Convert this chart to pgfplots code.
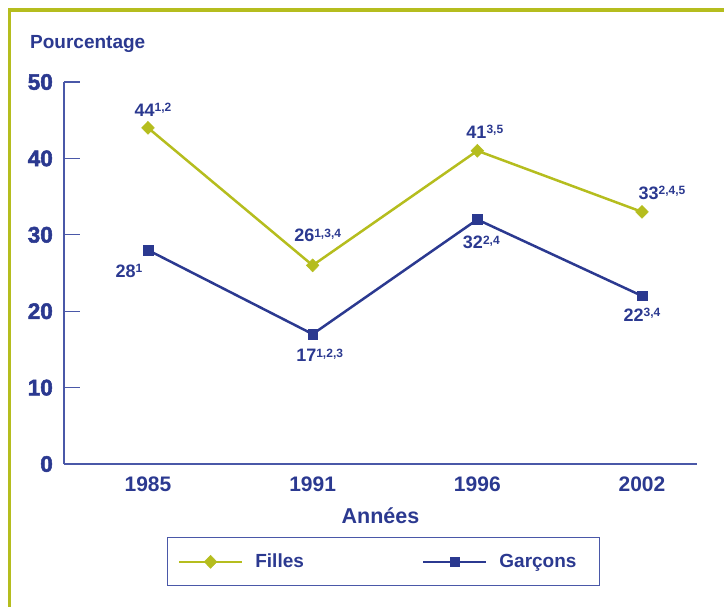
\documentclass[border=0pt]{standalone}
\usepackage{pgfplots}
\pgfplotsset{compat=1.18}
\usepackage{fontspec}
\setmainfont{Liberation Sans}
\newfontfamily\heavyfont{Liberation Sans}[FakeBold=2.2]
\definecolor{navy}{HTML}{2B3990}
\definecolor{olivec}{HTML}{B5BD1E}
\definecolor{axisblue}{HTML}{4A58A8}
\newcommand{\sups}[1]{\raisebox{4.5pt}{\fontsize{12}{12}\selectfont\bfseries #1}}
\tikzset{lab/.style={anchor=base, inner sep=0pt, text=navy, font=\fontsize{18}{18}\selectfont\bfseries}}
\begin{document}
\begin{tikzpicture}
\draw[olivec, line width=3.5pt] (9.5pt,-800pt) -- (9.5pt,-10pt) -- (900pt,-10pt);
\node[anchor=base west, text=navy, font=\fontsize{19}{19}\selectfont\bfseries, inner sep=0pt] at (30pt,-49pt) {Pourcentage};
\begin{axis}[
  at={(64pt,-464pt)}, anchor=south west,
  scale only axis, width=633pt, height=382pt,
  xmin=-0.51, xmax=3.334, ymin=0, ymax=50,
  axis lines=left, axis line style={axisblue, line width=1.2pt, -},
  xtick={0,1,2,3}, xticklabels={1985,1991,1996,2002},
  major x tick style={draw=none},
  ytick={0,10,...,50},
  major y tick style={axisblue, line width=1.2pt},
  tick align=inside, major tick length=16pt,
  /pgf/number format/assume math mode=true,
  yticklabel style={anchor=east, inner sep=0pt, xshift=-11pt, text=navy, font=\fontsize{22.5}{22.5}\selectfont\heavyfont\bfseries},
  xticklabel style={anchor=north, inner sep=0pt, yshift=-13pt, text=navy, font=\fontsize{21}{21}\selectfont\bfseries},
  xlabel={Années},
  xlabel style={at={(axis description cs:0.5,0)}, anchor=base, yshift=-59pt, inner sep=0pt, text=navy, font=\fontsize{21.5}{21.5}\selectfont\bfseries},
  legend columns=2,
  legend style={at={(0.505,-0.1916)}, anchor=north, draw=axisblue, line width=1pt, inner xsep=10pt, inner ysep=16.5pt, text=navy, font=\fontsize{19}{19}\selectfont\bfseries, nodes={inner sep=0pt}, /tikz/every odd column/.append style={column sep=12pt}, /tikz/every even column/.append style={column sep=118pt}},
  legend image code/.code={\draw[mark repeat=2, mark phase=2, #1] plot coordinates {(0pt,0pt) (31.5pt,0pt) (63pt,0pt)};},
  clip=false,
]
\addplot[olivec, line width=2.5pt, mark=diamond*, mark size=6.5pt, mark options={solid, line width=0.5pt, xscale=1.3}] coordinates {(0,44) (1,26) (2,41) (3,33)};
\addlegendentry{Filles}
\addplot[navy, line width=2.5pt, mark=square*, mark size=4.8pt, mark options={solid, line width=0.5pt}] coordinates {(0,28) (1,17) (2,32) (3,22)};
\addlegendentry{Garçons\hspace*{13pt}}
\node[lab, xshift=5pt, yshift=11.6pt] at (axis cs:0,44) {44\sups{1,2}};
\node[lab, xshift=5pt, yshift=23.6pt] at (axis cs:1,26) {26\sups{1,3,4}};
\node[lab, xshift=7.5pt, yshift=12.6pt] at (axis cs:2,41) {41\sups{3,5}};
\node[lab, xshift=20pt, yshift=12.6pt] at (axis cs:3,33) {33\sups{2,4,5}};
\node[lab, xshift=-19pt, yshift=-27.4pt] at (axis cs:0,28) {28\sups{1}};
\node[lab, xshift=7pt, yshift=-27.4pt] at (axis cs:1,17) {17\sups{1,2,3}};
\node[lab, xshift=4pt, yshift=-29.4pt] at (axis cs:2,32) {32\sups{2,4}};
\node[lab, xshift=0pt, yshift=-25.4pt] at (axis cs:3,22) {22\sups{3,4}};
\end{axis}
\pgfresetboundingbox
\path[use as bounding box] (0,0) rectangle (724pt,-607pt);
\end{tikzpicture}
\end{document}
